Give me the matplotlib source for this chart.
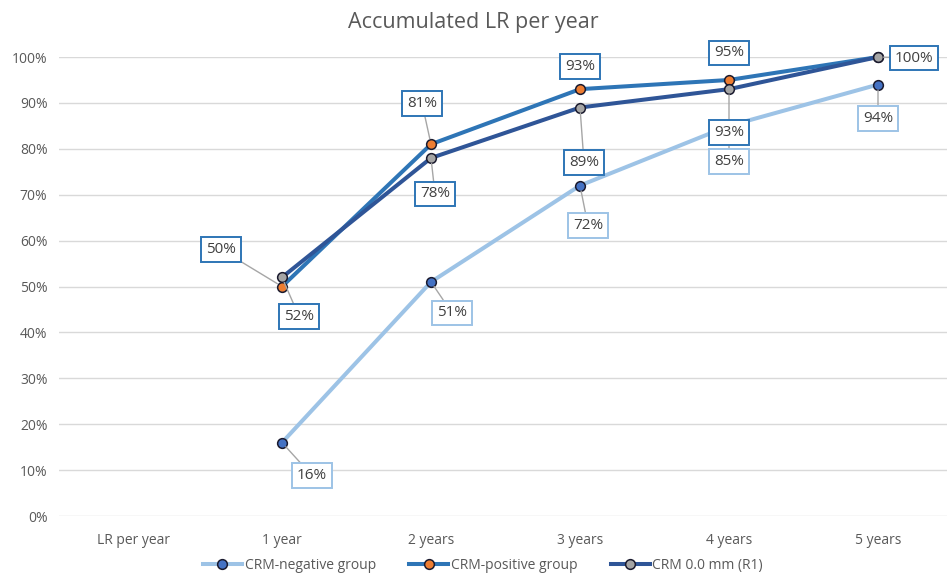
import matplotlib.pyplot as plt
from matplotlib.ticker import PercentFormatter

plt.rcParams['font.family'] = ['Open Sans', 'DejaVu Sans']

categories = ['LR per year', '1 year', '2 years', '3 years', '4 years', '5 years']
years = [1, 2, 3, 4, 5]

crm_negative = [16, 51, 72, 85, 94]
crm_positive = [50, 81, 93, 95, 100]
crm_r1 = [52, 78, 89, 93, 100]

# label offsets in pixels from each point (None = no label)
off_negative = [(30, -33), (21, -31), (8, -40), (0, -36), (0, -34)]
off_positive = [(-61, 37), (-9, 41), (0, 23), (0, 27), (36, -1)]
off_r1 = [(17, -39), (4, -36), (4, -55), (0, -43), None]

fig = plt.figure(figsize=(9.47, 5.83), dpi=100)
ax = fig.add_axes([0.0618, 0.1149, 0.944, 0.7873])

series = [
    ('CRM-negative group', crm_negative, '#9DC3E6', '#4472C4', off_negative, '#9DC3E6'),
    ('CRM-positive group', crm_positive, '#2E75B6', '#ED7D31', off_positive, '#2E75B6'),
    ('CRM 0.0 mm (R1)', crm_r1, '#2F5597', '#A5A5A5', off_r1, '#2E75B6'),
]

for name, vals, lc, mc, offs, bc in series:
    ax.plot(years, [v / 100 for v in vals], color=lc, lw=2.9, marker='o',
            ms=7, mfc=mc, mec='#1a1a2e', mew=1.1, label=name, clip_on=False,
            zorder=3)
    for x, v, off in zip(years, vals, offs):
        if off is None:
            continue
        far = (off[0] ** 2 + off[1] ** 2) ** 0.5 > 30
        ax.annotate(f'{v}%', (x, v / 100), xytext=off, textcoords='offset pixels',
                    ha='center', va='center', fontsize=11, color='#404040',
                    bbox=dict(boxstyle='square,pad=0.32', fc='white', ec=bc, lw=1.4),
                    arrowprops=dict(arrowstyle='-', color='#A6A6A6', lw=1,
                                    shrinkA=0, shrinkB=4) if far else None,
                    zorder=5, annotation_clip=False)

ax.set_xlim(-0.5, 5.5)
ax.set_ylim(0, 1.0)
ax.set_xticks(range(len(categories)))
ax.set_xticklabels(categories)
ax.set_yticks([i / 10 for i in range(11)])
ax.yaxis.set_major_formatter(PercentFormatter(1.0, decimals=0))
ax.tick_params(length=0, labelsize=10, colors='#595959', pad=8)
ax.tick_params(axis='x', pad=12)
ax.grid(axis='y', color='#D9D9D9', lw=1)
ax.set_axisbelow(True)
for s in ax.spines.values():
    s.set_visible(False)

fig.text(0.5, 0.962, 'Accumulated LR per year', ha='center', va='center',
         fontsize=15.5, color='#595959')

fig.legend(loc='center', bbox_to_anchor=(0.51, 0.03), ncol=3, frameon=False,
           fontsize=10, labelcolor='#595959', handlelength=2.8, columnspacing=2.4,
           handletextpad=0.2)

fig.savefig('out.png', dpi=100)
